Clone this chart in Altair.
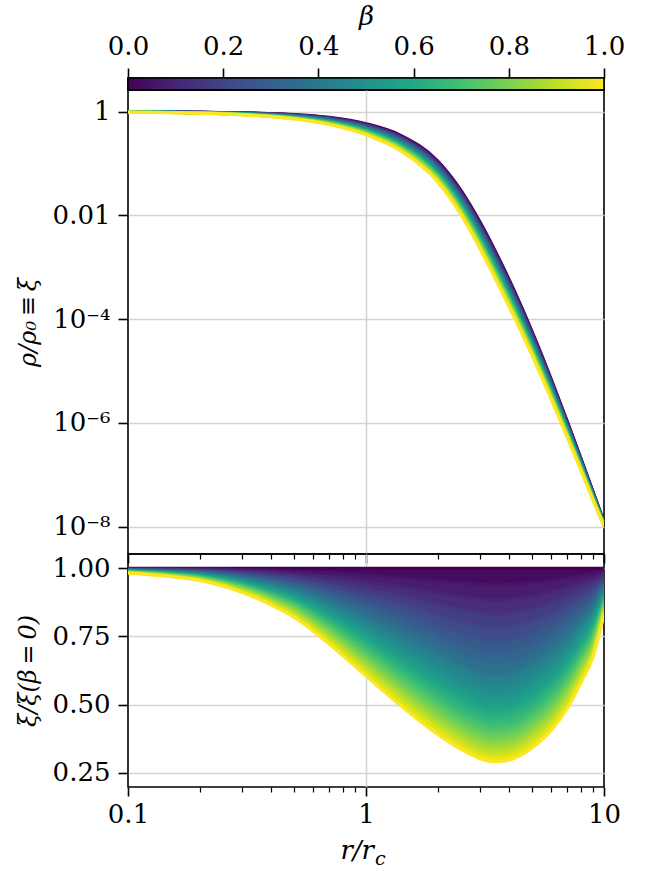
import altair as alt
import pandas as pd

# ---------------- data ----------------
R = [0.1, 0.15, 0.2, 0.3, 0.4, 0.5, 0.7, 1.0, 1.4, 2.0, 2.5, 3.0, 3.4, 3.9, 4.5, 5.2, 6.0, 7.0, 8.0, 9.0, 10.0]

# rho/rho0 for beta = 0 (upper edge of the band in the top panel)
XI_BETA0 = [0.995, 0.989, 0.980, 0.956, 0.923, 0.880, 0.780, 0.590, 0.352, 0.1135, 0.0312,
            7.8e-3, 2.65e-3, 7.36e-4, 1.75e-4, 3.66e-5, 7.06e-6, 1.10e-6, 2.09e-7, 4.72e-8, 1.23e-8]

BETA = [0.0, 0.05, 0.1, 0.15, 0.2, 0.25, 0.3, 0.35, 0.4, 0.45, 0.5,
        0.55, 0.6, 0.65, 0.7, 0.75, 0.8, 0.85, 0.9, 0.95, 1.0]

# xi / xi(beta=0) for each beta (bottom panel), one list per curve
RATIO_B000 = [1.0, 1.0, 1.0, 1.0, 1.0, 1.0, 1.0, 1.0, 1.0, 1.0, 1.0, 1.0, 1.0, 1.0, 1.0, 1.0, 1.0, 1.0, 1.0, 1.0, 1.0]
RATIO_B005 = [0.999, 0.998, 0.998, 0.995, 0.993, 0.990, 0.984, 0.975, 0.965, 0.954, 0.947, 0.942, 0.940, 0.941, 0.944, 0.949, 0.956, 0.964, 0.973, 0.981, 0.991]
RATIO_B010 = [0.998, 0.997, 0.995, 0.991, 0.986, 0.980, 0.968, 0.951, 0.932, 0.910, 0.897, 0.887, 0.884, 0.885, 0.891, 0.901, 0.914, 0.930, 0.947, 0.961, 0.982]
RATIO_B015 = [0.997, 0.995, 0.993, 0.986, 0.978, 0.971, 0.952, 0.927, 0.900, 0.868, 0.849, 0.836, 0.831, 0.832, 0.841, 0.855, 0.873, 0.897, 0.922, 0.943, 0.972]
RATIO_B020 = [0.996, 0.994, 0.991, 0.982, 0.971, 0.961, 0.937, 0.904, 0.869, 0.828, 0.804, 0.787, 0.781, 0.783, 0.794, 0.812, 0.835, 0.865, 0.897, 0.924, 0.963]
RATIO_B025 = [0.995, 0.992, 0.989, 0.977, 0.964, 0.952, 0.922, 0.882, 0.839, 0.790, 0.761, 0.741, 0.734, 0.736, 0.749, 0.771, 0.798, 0.835, 0.873, 0.906, 0.954]
RATIO_B030 = [0.995, 0.991, 0.986, 0.973, 0.957, 0.942, 0.907, 0.860, 0.810, 0.754, 0.721, 0.698, 0.690, 0.693, 0.707, 0.732, 0.762, 0.805, 0.849, 0.889, 0.946]
RATIO_B035 = [0.994, 0.989, 0.984, 0.968, 0.951, 0.933, 0.892, 0.839, 0.782, 0.719, 0.683, 0.658, 0.648, 0.652, 0.667, 0.695, 0.729, 0.776, 0.826, 0.871, 0.937]
RATIO_B040 = [0.993, 0.988, 0.982, 0.964, 0.944, 0.924, 0.878, 0.818, 0.755, 0.686, 0.646, 0.619, 0.609, 0.613, 0.630, 0.659, 0.697, 0.749, 0.804, 0.855, 0.928]
RATIO_B045 = [0.992, 0.986, 0.979, 0.959, 0.937, 0.915, 0.864, 0.798, 0.729, 0.655, 0.612, 0.583, 0.573, 0.576, 0.595, 0.626, 0.666, 0.722, 0.783, 0.838, 0.920]
RATIO_B050 = [0.991, 0.985, 0.977, 0.955, 0.930, 0.906, 0.850, 0.778, 0.704, 0.624, 0.580, 0.550, 0.539, 0.542, 0.561, 0.594, 0.636, 0.696, 0.762, 0.822, 0.911]
RATIO_B055 = [0.990, 0.983, 0.975, 0.951, 0.923, 0.897, 0.836, 0.759, 0.679, 0.596, 0.549, 0.518, 0.506, 0.510, 0.530, 0.564, 0.608, 0.672, 0.741, 0.806, 0.903]
RATIO_B060 = [0.989, 0.982, 0.973, 0.946, 0.917, 0.888, 0.822, 0.740, 0.656, 0.568, 0.520, 0.488, 0.476, 0.480, 0.500, 0.535, 0.581, 0.648, 0.721, 0.790, 0.894]
RATIO_B065 = [0.988, 0.980, 0.971, 0.942, 0.910, 0.879, 0.809, 0.721, 0.633, 0.542, 0.492, 0.459, 0.447, 0.451, 0.472, 0.508, 0.556, 0.625, 0.702, 0.775, 0.886]
RATIO_B070 = [0.987, 0.979, 0.968, 0.938, 0.903, 0.870, 0.796, 0.703, 0.611, 0.517, 0.466, 0.433, 0.420, 0.424, 0.445, 0.482, 0.531, 0.603, 0.683, 0.759, 0.878]
RATIO_B075 = [0.986, 0.977, 0.966, 0.933, 0.897, 0.862, 0.783, 0.686, 0.590, 0.494, 0.441, 0.407, 0.395, 0.399, 0.420, 0.458, 0.508, 0.581, 0.665, 0.745, 0.870]
RATIO_B080 = [0.986, 0.976, 0.964, 0.929, 0.890, 0.853, 0.771, 0.669, 0.570, 0.471, 0.418, 0.384, 0.371, 0.376, 0.397, 0.435, 0.485, 0.561, 0.647, 0.730, 0.862]
RATIO_B085 = [0.985, 0.974, 0.962, 0.925, 0.884, 0.845, 0.758, 0.652, 0.550, 0.449, 0.396, 0.361, 0.349, 0.353, 0.375, 0.413, 0.464, 0.541, 0.629, 0.716, 0.854]
RATIO_B090 = [0.984, 0.973, 0.959, 0.920, 0.878, 0.836, 0.746, 0.636, 0.531, 0.429, 0.375, 0.340, 0.328, 0.332, 0.354, 0.392, 0.443, 0.521, 0.612, 0.702, 0.846]
RATIO_B095 = [0.983, 0.971, 0.957, 0.916, 0.871, 0.828, 0.734, 0.620, 0.513, 0.409, 0.355, 0.321, 0.309, 0.313, 0.334, 0.372, 0.424, 0.503, 0.596, 0.688, 0.838]
RATIO_B100 = [0.982, 0.970, 0.955, 0.912, 0.865, 0.820, 0.722, 0.605, 0.495, 0.390, 0.336, 0.302, 0.290, 0.294, 0.315, 0.353, 0.405, 0.485, 0.580, 0.675, 0.830]

RATIOS = [RATIO_B000, RATIO_B005, RATIO_B010, RATIO_B015, RATIO_B020, RATIO_B025,
          RATIO_B030, RATIO_B035, RATIO_B040, RATIO_B045, RATIO_B050, RATIO_B055,
          RATIO_B060, RATIO_B065, RATIO_B070, RATIO_B075, RATIO_B080, RATIO_B085,
          RATIO_B090, RATIO_B095, RATIO_B100]

# axis tick values
X_TICKS = [0.1, 0.2, 0.3, 0.4, 0.5, 0.6, 0.7, 0.8, 0.9, 1, 2, 3, 4, 5, 6, 7, 8, 9, 10]
Y_TOP_TICKS = [1, 1e-2, 1e-4, 1e-6, 1e-8]
Y_BOT_TICKS = [0.25, 0.5, 0.75, 1.0]
CBAR_TICKS = [0.0, 0.2, 0.4, 0.6, 0.8, 1.0]

VIRIDIS = ["#440154", "#482475", "#414487", "#355f8d", "#2a788e", "#21918c",
           "#22a884", "#44bf70", "#7ad151", "#bddf26", "#fde725"]

# ---------------- tables ----------------
line_rows = []
for b, row in zip(BETA, RATIOS):
    for r, x0, q in zip(R, XI_BETA0, row):
        line_rows.append({"r": r, "beta": b, "ratio": q, "xi": x0 * q})
lines_df = pd.DataFrame(line_rows)

band_rows = []
for k in range(len(BETA) - 1):
    bmid = (BETA[k] + BETA[k + 1]) / 2
    for r, x0, qh, ql in zip(R, XI_BETA0, RATIOS[k], RATIOS[k + 1]):
        band_rows.append({"r": r, "band": k, "bmid": bmid,
                          "ratio_hi": qh, "ratio_lo": ql,
                          "xi_hi": x0 * qh, "xi_lo": x0 * ql})
bands_df = pd.DataFrame(band_rows)

FONT = "DejaVu Serif"
W = 476
H_CB, H_TOP, H_BOT = 12, 464, 233

major_test = "datum.value == 0.1 || datum.value == 1 || datum.value == 10"
xscale = alt.Scale(type="log", domain=[0.1, 10], nice=False)
cscale = alt.Scale(scheme="viridis", domain=[0, 1])


def x_axis(show_labels):
    kw = dict(
        values=X_TICKS,
        grid=True,
        gridOpacity={"condition": {"test": "datum.value == 1", "value": 1}, "value": 0},
        tickSize={"condition": {"test": major_test, "value": 9}, "value": 5},
        tickWidth={"condition": {"test": major_test, "value": 1.6}, "value": 1.2},
        labelOverlap=False,
        labelFlush=False,
        title=None,
    )
    if show_labels:
        kw.update(labelExpr="datum.value == 0.1 ? '0.1' : datum.value == 1 ? '1' : datum.value == 10 ? '10' : ''",
                  labelPadding=5)
    else:
        kw.update(labels=False)
    return alt.Axis(**kw)


# ---------------- colorbar ----------------
grad = alt.Gradient(gradient="linear",
                    stops=[alt.GradientStop(color=c, offset=i / 10) for i, c in enumerate(VIRIDIS)],
                    x1=0, x2=1, y1=0, y2=0)
cbar = alt.Chart(pd.DataFrame({"b0": [0.0], "b1": [1.0]})).mark_rect(
    fill=grad, stroke="black", strokeWidth=1.6
).encode(
    x=alt.X("b0:Q", scale=alt.Scale(domain=[0, 1], nice=False),
            axis=alt.Axis(orient="top", values=CBAR_TICKS, format=".1f", title="β",
                          titleFontStyle="italic", tickSize=10, tickWidth=1.6,
                          labelPadding=9, titlePadding=4, grid=False, labelFlush=False)),
    x2="b1:Q",
).properties(width=W, height=H_CB)

# ---------------- top panel ----------------
ytop = alt.Scale(type="log", domain=[2.98e-9, 2.62], nice=False)
top_label = ("datum.value >= 0.5 ? '1' : datum.value >= 0.005 ? '0.01' : "
             "datum.value >= 5e-5 ? '10⁻⁴' : datum.value >= 5e-7 ? '10⁻⁶' : '10⁻⁸'")
top_yaxis = alt.Axis(values=Y_TOP_TICKS, labelExpr=top_label, title="ρ/ρ₀\u2009≡\u2009ξ",
                     titleFontStyle="italic", titleFontSize=24, titleX=-100, titleY=H_TOP / 2,
                     titleBaseline="middle", titleAngle=270,
                     tickSize=10, tickWidth=1.6, labelPadding=8, grid=True)

top_bands = alt.Chart(bands_df).mark_area(interpolate="monotone", clip=True).encode(
    x=alt.X("r:Q", scale=xscale, axis=x_axis(False)),
    y=alt.Y("xi_hi:Q", scale=ytop, axis=top_yaxis),
    y2="xi_lo:Q",
    color=alt.Color("bmid:Q", scale=cscale, legend=None),
    detail="band:N",
)
top_lines = alt.Chart(lines_df).mark_line(interpolate="monotone", strokeWidth=3, clip=True).encode(
    x=alt.X("r:Q", scale=xscale),
    y=alt.Y("xi:Q", scale=ytop),
    color=alt.Color("beta:Q", scale=cscale, legend=None),
    detail="beta:N",
)
top = alt.layer(top_bands, top_lines).properties(width=W, height=H_TOP)

# ---------------- bottom panel ----------------
ybot = alt.Scale(domain=[0.1975, 1.0525], nice=False, zero=False)
bot_yaxis = alt.Axis(values=Y_BOT_TICKS, format=".2f", title="ξ/ξ(β\u2009=\u20090)",
                     titleFontStyle="italic", titleFontSize=24, titleX=-100, titleY=H_BOT / 2,
                     titleBaseline="middle", titleAngle=270,
                     tickSize=10, tickWidth=1.6, labelPadding=8, grid=True)

bot_bands = alt.Chart(bands_df).mark_area(interpolate="monotone", clip=True).encode(
    x=alt.X("r:Q", scale=xscale, axis=x_axis(True)),
    y=alt.Y("ratio_hi:Q", scale=ybot, axis=bot_yaxis),
    y2="ratio_lo:Q",
    color=alt.Color("bmid:Q", scale=cscale, legend=None),
    detail="band:N",
)
bot_lines = alt.Chart(lines_df).mark_line(interpolate="monotone", strokeWidth=3, clip=True).encode(
    x=alt.X("r:Q", scale=xscale),
    y=alt.Y("ratio:Q", scale=ybot),
    color=alt.Color("beta:Q", scale=cscale, legend=None),
    detail="beta:N",
)
# x-axis title r/r_c drawn as two texts (main part + subscript)
xt_main = alt.Chart(pd.DataFrame({"t": ["r/r"]})).mark_text(
    font=FONT, fontSize=26, fontStyle="italic", align="right", baseline="middle"
).encode(text="t:N", x=alt.value(W / 2 + 8), y=alt.value(H_BOT + 64))
xt_sub = alt.Chart(pd.DataFrame({"t": ["c"]})).mark_text(
    font=FONT, fontSize=19, fontStyle="italic", align="left", baseline="middle"
).encode(text="t:N", x=alt.value(W / 2 + 9), y=alt.value(H_BOT + 72))

bottom = alt.layer(bot_bands, bot_lines, xt_main, xt_sub).properties(width=W, height=H_BOT)

chart = alt.vconcat(cbar, top, bottom, spacing=0, bounds="flush").properties(
    padding={"left": 15, "top": 2, "right": 5, "bottom": 5},
    background="white",
).configure(
    font=FONT
).configure_view(
    stroke="black", strokeWidth=1.6
).configure_axis(
    labelFont=FONT, titleFont=FONT, labelFontSize=26, titleFontSize=26,
    labelColor="black", titleColor="black", tickColor="black",
    domain=False, gridColor="#d4d4d4", gridWidth=1.6, titleFontWeight="normal",
)

chart.save("out.html", embed_options={"renderer": "svg", "actions": False})
